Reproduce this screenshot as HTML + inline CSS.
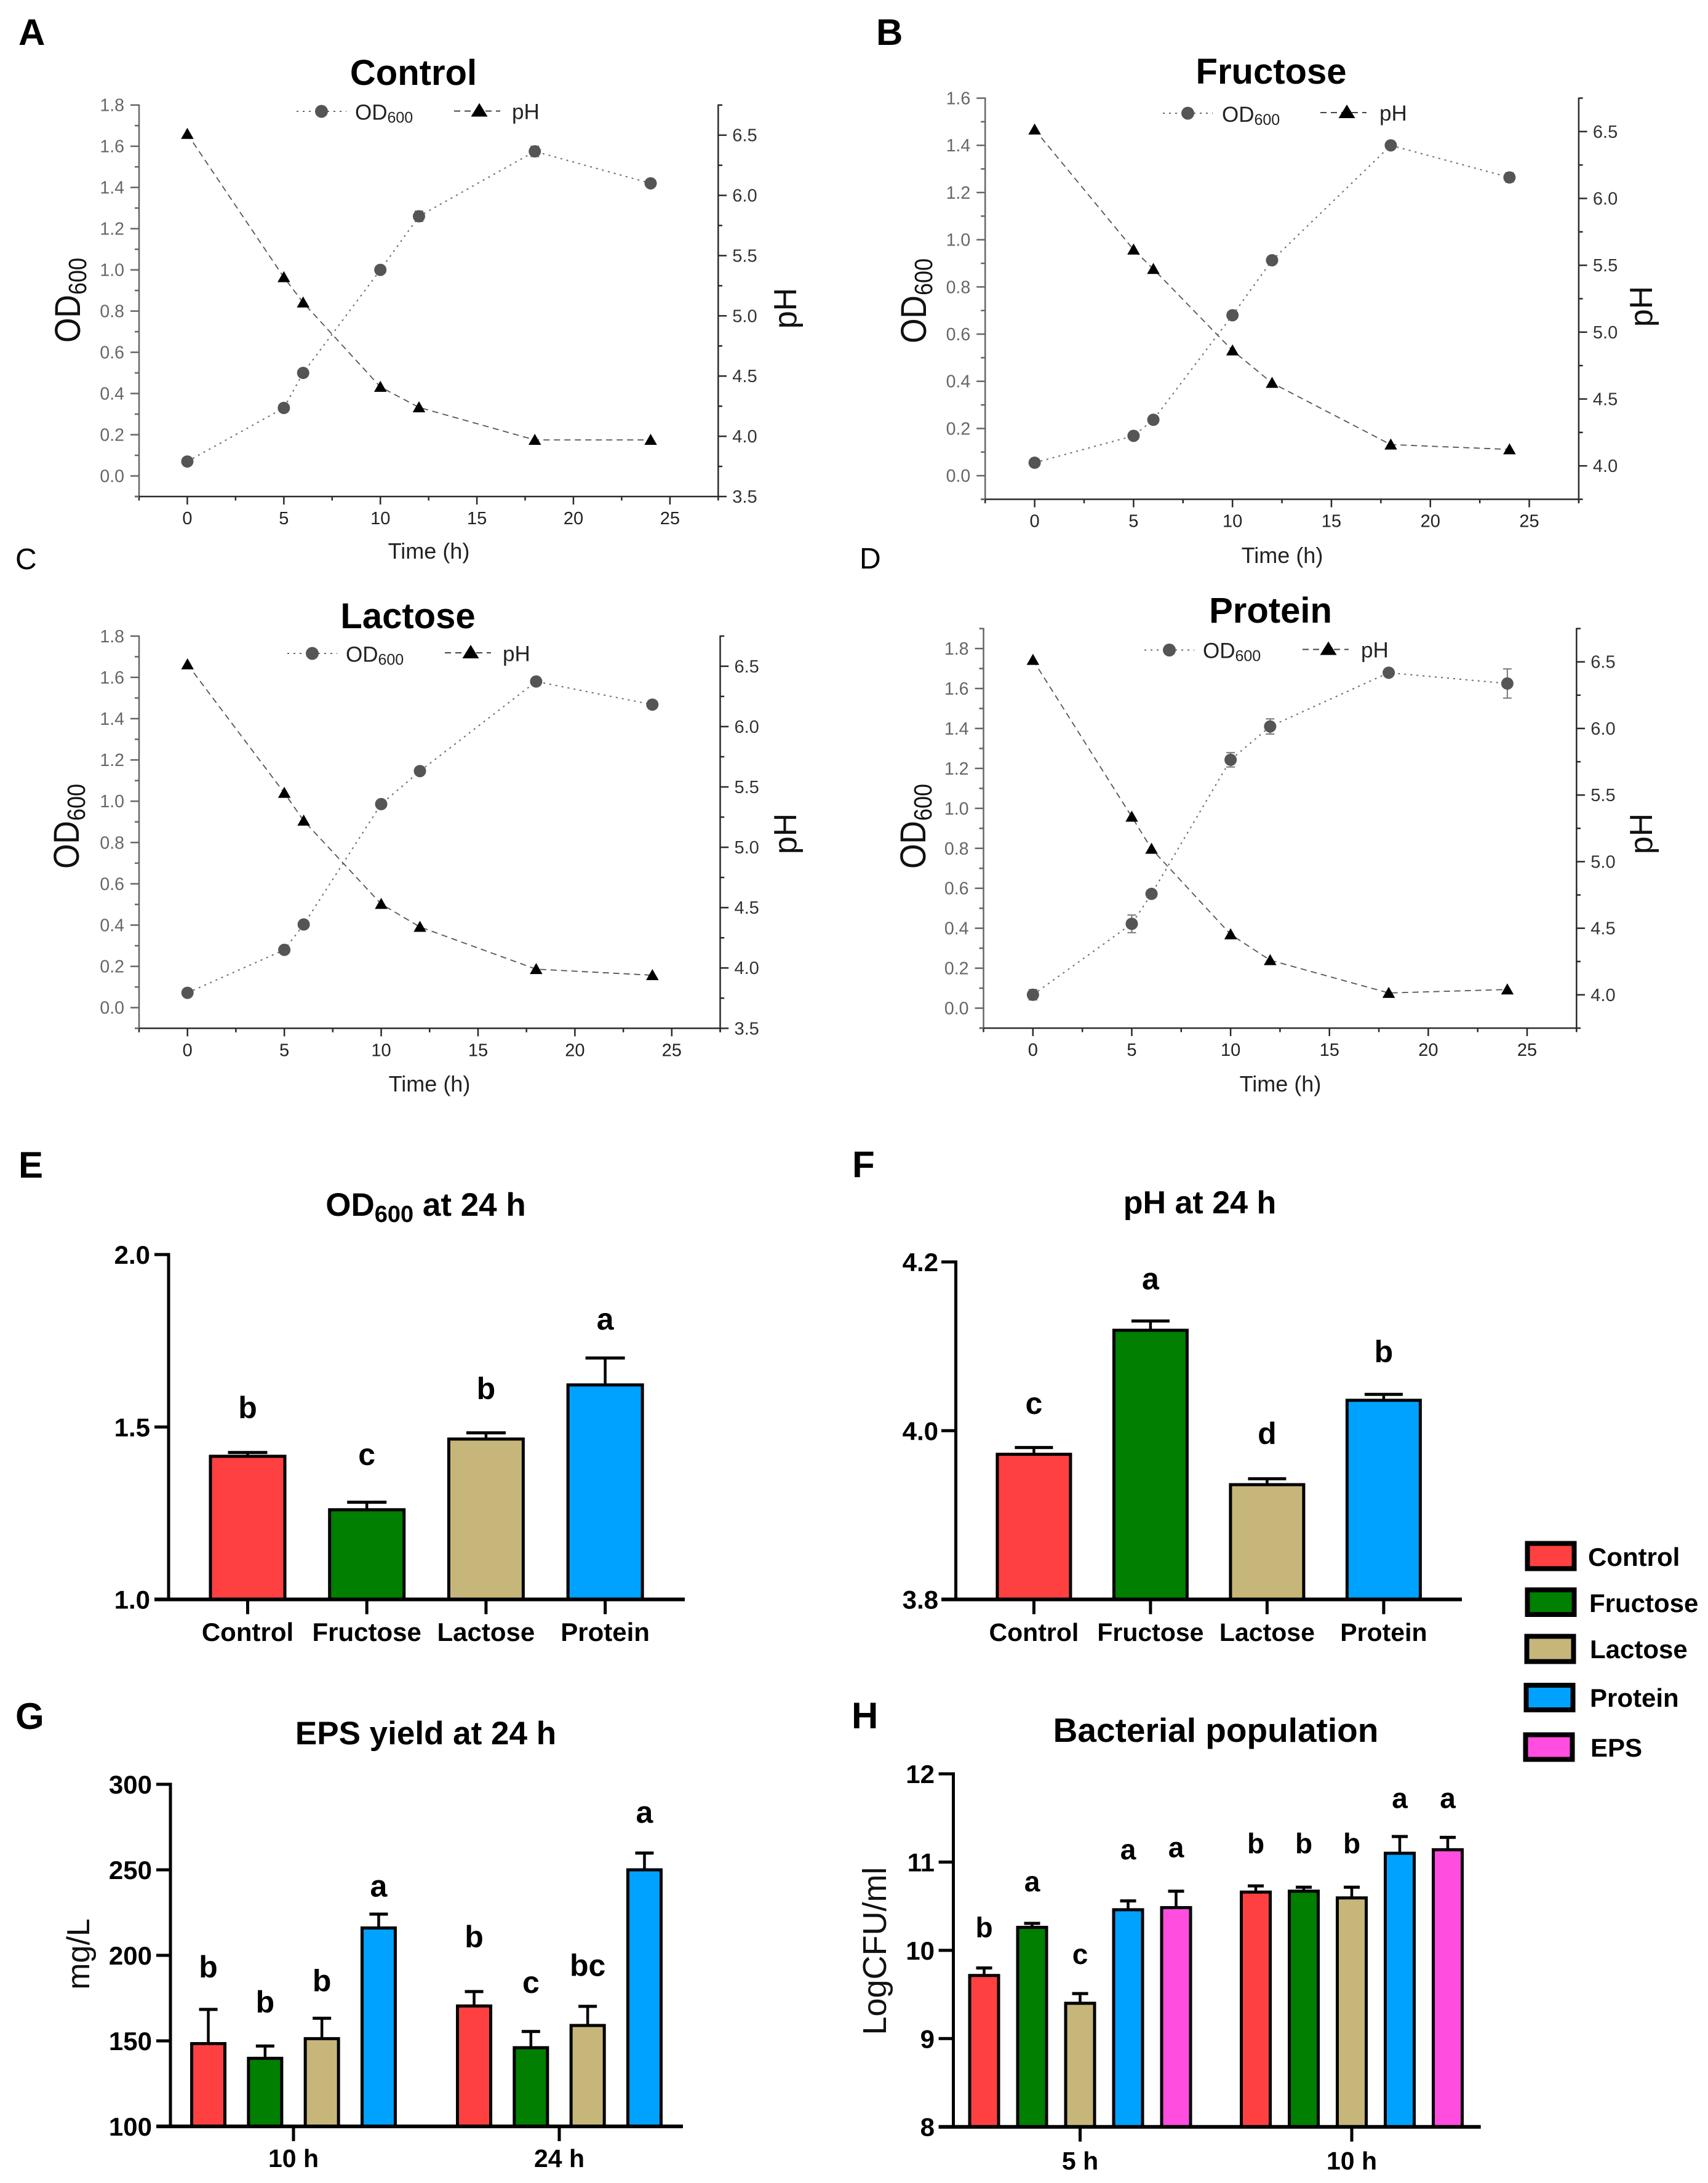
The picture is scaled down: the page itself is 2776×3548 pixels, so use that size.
<!DOCTYPE html>
<html lang="en">
<head>
<meta charset="utf-8">
<title>Bacterial growth, pH, EPS yield and population</title>
<style>
html,body{margin:0;padding:0;background:#fff;}
svg{display:block;font-family:"Liberation Sans",Arial,sans-serif;}
.pl{font-weight:700;font-size:60px;fill:#000;}
.plr{font-size:48px;fill:#000;}
.lt{font-weight:700;font-size:58px;fill:#000;text-anchor:middle;}
.at{font-size:52px;fill:#111;text-anchor:middle;}
.tm{font-size:36px;fill:#222;text-anchor:middle;}
.bt{font-weight:700;fill:#000;text-anchor:middle;}
.lg{font-weight:700;font-size:42px;fill:#000;}
</style>
</head>
<body>
<svg id="figure" xmlns="http://www.w3.org/2000/svg" width="2776" height="3548" viewBox="0 0 2776 3548">
  <rect x="0" y="0" width="2776" height="3548" fill="#fff"/>

  <g id="panel-a">
    <text class="pl" x="30" y="73">A</text>
    <text class="lt" x="672" y="138">Control</text>
    <text class="at" transform="translate(130,488) rotate(-90) scale(1,1.12)">OD<tspan font-size="36" dy="9">600</tspan></text>
    <text class="at" transform="translate(1294,501) rotate(-90)" style="font-size:52px">pH</text>
    <text class="tm" x="697" y="908">Time (h)</text>
  </g>
  <g id="panel-b">
    <text class="pl" x="1424" y="73">B</text>
    <text class="lt" x="2066" y="136">Fructose</text>
    <text class="at" transform="translate(1505,489) rotate(-90) scale(1,1.12)">OD<tspan font-size="36" dy="9">600</tspan></text>
    <text class="at" transform="translate(2685,498) rotate(-90)" style="font-size:52px">pH</text>
    <text class="tm" x="2084" y="915">Time (h)</text>
  </g>
  <g id="panel-c">
    <text class="plr" x="25" y="925">C</text>
    <text class="lt" x="663" y="1021">Lactose</text>
    <text class="at" transform="translate(128,1343) rotate(-90) scale(1,1.12)">OD<tspan font-size="36" dy="9">600</tspan></text>
    <text class="at" transform="translate(1294,1355) rotate(-90)" style="font-size:52px">pH</text>
    <text class="tm" x="698" y="1774">Time (h)</text>
  </g>
  <g id="panel-d">
    <text class="plr" x="1397" y="924">D</text>
    <text class="lt" x="2065" y="1012">Protein</text>
    <text class="at" transform="translate(1504,1343) rotate(-90) scale(1,1.12)">OD<tspan font-size="36" dy="9">600</tspan></text>
    <text class="at" transform="translate(2685,1355) rotate(-90)" style="font-size:52px">pH</text>
    <text class="tm" x="2081" y="1774">Time (h)</text>
  </g>
  <g id="panel-e">
    <text class="pl" x="30" y="1914">E</text>
    <text class="bt" x="692" y="1976" font-size="53">OD<tspan font-size="38" dy="10">600</tspan><tspan dy="-10"> at 24 h</tspan></text>
  </g>
  <g id="panel-f">
    <text class="pl" x="1385" y="1913">F</text>
    <text class="bt" x="1950" y="1972" font-size="52">pH at 24 h</text>
  </g>
  <g id="panel-g">
    <text class="pl" x="25" y="2810">G</text>
    <text class="bt" x="692" y="2835" font-size="53">EPS yield at 24 h</text>
    <text class="at" transform="translate(145,3176) rotate(-90)">mg/L</text>
  </g>
  <g id="panel-h">
    <text class="pl" x="1384" y="2809">H</text>
    <text class="bt" x="1976" y="2831" font-size="55">Bacterial population</text>
    <text class="at" transform="translate(1440,3171) rotate(-90)" style="font-size:54px">LogCFU/ml</text>
  </g>

  <g id="bar-legend" transform="translate(-3,-2)">
    <g>
      <rect x="2485.5" y="2510.5" width="76" height="41" fill="#FF4040" stroke="#000" stroke-width="8"/>
      <text class="lg" x="2584" y="2547">Control</text>
    </g>
    <g>
      <rect x="2485.5" y="2586" width="76" height="40" fill="#007F00" stroke="#000" stroke-width="8"/>
      <text class="lg" x="2586" y="2622">Fructose</text>
    </g>
    <g>
      <rect x="2484.5" y="2661.5" width="76" height="41" fill="#C6B679" stroke="#000" stroke-width="8"/>
      <text class="lg" x="2587" y="2697">Lactose</text>
    </g>
    <g>
      <rect x="2483.5" y="2741" width="76" height="40" fill="#00A2FF" stroke="#000" stroke-width="8"/>
      <text class="lg" x="2587" y="2776">Protein</text>
    </g>
    <g>
      <rect x="2482.5" y="2821.5" width="76" height="40" fill="#FF4DDF" stroke="#000" stroke-width="8"/>
      <text class="lg" x="2588" y="2857">EPS</text>
    </g>
  </g>
</svg>

<script>
/* ---------- growth-curve data ---------- */
const timePoints = [0, 5, 6, 10, 12, 18, 24];
const xTickLabels = ['0', '5', '10', '15', '20', '25'];
const xMinorTicks = [-2.5, 2.5, 7.5, 12.5, 17.5, 22.5, 27.5];

const controlOD = [0.07, 0.33, 0.50, 1.00, 1.26, 1.575, 1.42];
const controlODErr = [0.01, 0.01, 0.01, 0.01, 0.025, 0.025, 0.01];
const controlPH = [6.51, 5.32, 5.11, 4.41, 4.24, 3.97, 3.97];

const fructoseOD = [0.055, 0.169, 0.237, 0.68, 0.913, 1.40, 1.264];
const fructoseODErr = [0.005, 0.01, 0.01, 0.01, 0.01, 0.01, 0.02];
const fructosePH = [6.515, 5.617, 5.472, 4.863, 4.62, 4.159, 4.123];

const lactoseOD = [0.072, 0.28, 0.403, 0.986, 1.146, 1.58, 1.468];
const lactoseODErr = [0.005, 0.01, 0.01, 0.01, 0.01, 0.01, 0.01];
const lactosePH = [6.515, 5.45, 5.22, 4.53, 4.34, 3.99, 3.94];

const proteinOD = [0.067, 0.422, 0.572, 1.243, 1.41, 1.679, 1.625];
const proteinODErr = [0.026, 0.044, 0.01, 0.036, 0.038, 0.012, 0.073];
const proteinPH = [6.514, 5.337, 5.096, 4.454, 4.26, 4.014, 4.04];

const odTicksTo18 = ['0.0', '0.2', '0.4', '0.6', '0.8', '1.0', '1.2', '1.4', '1.6', '1.8'];
const odTicksTo16 = ['0.0', '0.2', '0.4', '0.6', '0.8', '1.0', '1.2', '1.4', '1.6'];
const phTicksFrom35 = ['3.5', '4.0', '4.5', '5.0', '5.5', '6.0', '6.5'];
const phTicksFrom40 = ['4.0', '4.5', '5.0', '5.5', '6.0', '6.5'];

/* ---------- bar-chart data ---------- */
const fourCategories = ['Control', 'Fructose', 'Lactose', 'Protein'];
const fillColors = ['#FF4040', '#007F00', '#C6B679', '#00A2FF', '#FF4DDF'];
const seriesNames = ['control', 'fructose', 'lactose', 'protein', 'eps'];

const odBarValues = [1.415, 1.26, 1.465, 1.622];
const odBarErrors = [0.011, 0.022, 0.018, 0.078];
const odBarLetters = ['b', 'c', 'b', 'a'];
const odBarLetterLevels = [1.525, 1.39, 1.581, 1.782];
const odBarTicks = ['1.0', '1.5', '2.0'];

const phBarValues = [3.972, 4.119, 3.936, 4.036];
const phBarErrors = [0.008, 0.011, 0.007, 0.007];
const phBarLetters = ['c', 'a', 'd', 'b'];
const phBarLetterLevels = [4.02, 4.1675, 3.984, 4.081];
const phBarTicks = ['3.8', '4.0', '4.2'];

const epsGroups = ['10 h', '24 h'];
const eps10hValues = [148.4, 139.8, 151.3, 216];
const eps10hErrors = [20, 7.2, 11.9, 8.1];
const eps10hLetters = ['b', 'b', 'b', 'a'];
const eps10hLetterLevels = [187, 166.5, 179, 234.4];
const eps24hValues = [170.4, 146, 159, 250];
const eps24hErrors = [8.4, 9.5, 11.2, 9.8];
const eps24hLetters = ['b', 'c', 'bc', 'a'];
const eps24hLetterLevels = [204.6, 178, 188, 277.5];
const epsTicks = ['100', '150', '200', '250', '300'];

const popGroups = ['5 h', '10 h'];
const pop5hValues = [9.715, 10.26, 9.40, 10.46, 10.484];
const pop5hErrors = [0.085, 0.046, 0.11, 0.10, 0.186];
const pop5hLetters = ['b', 'a', 'c', 'a', 'a'];
const pop5hLetterLevels = [10.15, 10.667, 9.845, 11.03, 11.054];
const pop10hValues = [10.66, 10.67, 10.594, 11.10, 11.14];
const pop10hErrors = [0.07, 0.045, 0.121, 0.19, 0.14];
const pop10hLetters = ['b', 'b', 'b', 'a', 'a'];
const pop10hLetterLevels = [11.1, 11.1, 11.1, 11.614, 11.614];
const popTicks = ['8', '9', '10', '11', '12'];

/* ---------- helpers ---------- */
const SVGNS = 'http://www.w3.org/2000/svg';
function make(tag, attrs, parent) {
  const el = document.createElementNS(SVGNS, tag);
  for (const k in attrs) el.setAttribute(k, attrs[k]);
  parent.appendChild(el);
  return el;
}
function linear(d0, d1, r0, r1) {
  return function (v) { return r0 + (v - d0) * (r1 - r0) / (d1 - d0); };
}
function hline(parent, name, x1, y1, x2, y2, color, width, dash) {
  const attrs = { x1: x1, y1: y1, x2: x2, y2: y2, stroke: color, 'stroke-width': width };
  if (dash) attrs['stroke-dasharray'] = dash;
  const el = make('line', attrs, parent);
  
  
  return el;
}
function label(parent, name, str, x, y, size, color, anchor, weight) {
  const el = make('text', { x: x, y: y, 'font-size': size, fill: color, 'text-anchor': anchor, 'font-weight': weight }, parent);
  el.textContent = str;
  
  
  return el;
}
function triangle(parent, name, cx, cy, w, h, color) {
  const pts = (cx - w / 2) + ',' + (cy + h / 2) + ' ' + (cx + w / 2) + ',' + (cy + h / 2) + ' ' + cx + ',' + (cy - h / 2);
  const el = make('polygon', { points: pts, fill: color }, parent);
  
  
  return el;
}
function circle(parent, name, cx, cy, r, color) {
  const el = make('circle', { cx: cx, cy: cy, r: r, fill: color }, parent);
  
  
  return el;
}

/* ---------- growth panel ---------- */
const OD_GRAY = '#555555';
const OD_DASH = '3 7';
const PH_DASH = '10 7';
function drawGrowthPanel(id, box, yTicks, rTicks, od, odErr, ph, legend) {
  const root = document.getElementById(id);
  const x = linear(-2.5, 27.5, box.left, box.right);
  const y = linear(box.yMin, box.yMax, box.bottom, box.top);
  const r = linear(box.rMin, 6.75, box.bottom, box.top);
  const leftColor = '#666666';
  const axisColor = '#2a2a2a';

  hline(root, 'left-axis', box.left, box.top - 1, box.left, box.bottom + 1, leftColor, 2.5);
  hline(root, 'right-axis', box.right, box.top - 1, box.right, box.bottom + 6, axisColor, 2.5);
  hline(root, 'bottom-axis', box.left - 7, box.bottom, box.right, box.bottom, axisColor, 2.5);

  xTickLabels.forEach(function (t) {
    const px = x(parseFloat(t));
    hline(root, 'x-tick', px, box.bottom, px, box.bottom + 13, axisColor, 2.5);
    label(root, 'x-tick-label', t, px, box.bottom + 45, 29, '#222', 'middle', 400);
  });
  xMinorTicks.forEach(function (t) {
    hline(root, 'x-minor-tick', x(t), box.bottom, x(t), box.bottom + 6.5, axisColor, 2.5);
  });

  yTicks.forEach(function (t) {
    const py = y(parseFloat(t));
    hline(root, 'y-tick', box.left - 14, py, box.left, py, leftColor, 2.5);
    label(root, 'y-tick-label', t, box.left - 24, py + 10, 28.5, '#666', 'end', 400);
  });
  for (let v = box.yMin; v < box.yMax + 0.001; v += 0.2) {
    hline(root, 'y-minor-tick', box.left - 7, y(v), box.left, y(v), leftColor, 2.5);
  }

  rTicks.forEach(function (t) {
    const py = r(parseFloat(t));
    hline(root, 'right-tick', box.right, py, box.right + 13.7, py, axisColor, 2.5);
    label(root, 'right-tick-label', t, box.right + 23, py + 10, 29, '#333', 'start', 400);
    if (parseFloat(t) + 0.25 < 6.8) {
      const pm = r(parseFloat(t) + 0.25);
      hline(root, 'right-minor-tick', box.right, pm, box.right + 6.7, pm, axisColor, 2.5);
    }
  });
  if (box.rMin === 3.75) {
    hline(root, 'right-minor-tick', box.right, box.bottom, box.right + 6.7, box.bottom, axisColor, 2.5);
  }

  const odLine = make('polyline', {
    points: timePoints.map(function (t, i) { return x(t) + ',' + y(od[i]); }).join(' '),
    fill: 'none', stroke: '#6a6a6a', 'stroke-width': 2, 'stroke-dasharray': OD_DASH
  }, root);
  
  

  const phLine = make('polyline', {
    points: timePoints.map(function (t, i) { return x(t) + ',' + r(ph[i]); }).join(' '),
    fill: 'none', stroke: '#555', 'stroke-width': 1.8, 'stroke-dasharray': PH_DASH
  }, root);
  
  

  timePoints.forEach(function (t, i) {
    const px = x(t);
    const hi = y(od[i] + odErr[i]);
    const lo = y(od[i] - odErr[i]);
    hline(root, 'od600-error-bar', px, hi, px, lo, '#777', 2);
    hline(root, 'od600-error-cap', px - 7, hi, px + 7, hi, '#777', 2);
    hline(root, 'od600-error-cap', px - 7, lo, px + 7, lo, '#777', 2);
    circle(root, 'od600-point', px, y(od[i]), 10, OD_GRAY);
    triangle(root, 'ph-point', px, r(ph[i]) - 1, 20.5, 18, '#000');
  });

  hline(root, 'legend-od600-line', legend.odLine0, legend.odY, legend.odLine1, legend.odY, '#6a6a6a', 2, OD_DASH);
  circle(root, 'legend-od600-marker', (legend.odLine0 + legend.odLine1) / 2, legend.odY, 10.5, OD_GRAY);
  const odLabel = make('text', { x: legend.odText, y: legend.odBase, 'font-size': 35, fill: '#222' }, root);
  
  
  odLabel.textContent = 'OD';
  const odSub = make('tspan', { 'font-size': 25, dy: 5 }, odLabel);
  odSub.textContent = '600';
  
  

  hline(root, 'legend-ph-line', legend.phLine0, legend.phY, legend.phLine1, legend.phY, '#444', 2, PH_DASH);
  triangle(root, 'legend-ph-marker', legend.phTri, legend.phY - 2, 27, 22, '#000');
  label(root, 'legend-ph-label', 'pH', legend.phText, legend.phBase, 35, '#222', 'start', 400);
}

drawGrowthPanel('panel-a',
  { left: 226, right: 1167.3, top: 170.7, bottom: 807, yMin: -0.1, yMax: 1.8, rMin: 3.5 },
  odTicksTo18, phTicksFrom35, controlOD, controlODErr, controlPH,
  { odLine0: 482, odLine1: 563, odY: 181, odText: 577, odBase: 194.5, phLine0: 738, phLine1: 813, phY: 180.5, phTri: 779, phText: 832, phBase: 193.5 });
drawGrowthPanel('panel-b',
  { left: 1601.2, right: 2565.9, top: 159.5, bottom: 811.5, yMin: -0.1, yMax: 1.6, rMin: 3.75 },
  odTicksTo16, phTicksFrom40, fructoseOD, fructoseODErr, fructosePH,
  { odLine0: 1890, odLine1: 1971, odY: 184, odText: 1986, odBase: 198, phLine0: 2146, phLine1: 2221, phY: 183, phTri: 2189, phText: 2242, phBase: 196 });
drawGrowthPanel('panel-c',
  { left: 226, right: 1170.5, top: 1033.8, bottom: 1671.3, yMin: -0.1, yMax: 1.8, rMin: 3.5 },
  odTicksTo18, phTicksFrom35, lactoseOD, lactoseODErr, lactosePH,
  { odLine0: 467, odLine1: 548, odY: 1062, odText: 562, odBase: 1075.5, phLine0: 723, phLine1: 798, phY: 1061, phTri: 765, phText: 817, phBase: 1074.5 });
drawGrowthPanel('panel-d',
  { left: 1598.5, right: 2562.3, top: 1021.6, bottom: 1671, yMin: -0.1, yMax: 1.9, rMin: 3.75 },
  odTicksTo18, phTicksFrom40, proteinOD, proteinODErr, proteinPH,
  { odLine0: 1860, odLine1: 1941, odY: 1056.5, odText: 1955, odBase: 1069.5, phLine0: 2117, phLine1: 2192, phY: 1055.5, phTri: 2159, phText: 2212, phBase: 1068.5 });

/* ---------- bar panel ---------- */
function drawBarAxes(root, box, yScale, ticks, fontSize) {
  hline(root, 'y-axis', box.axisX, box.top - 2.5, box.axisX, box.bottom + 2.5, '#000', 5);
  ticks.forEach(function (t) {
    const py = yScale(parseFloat(t));
    hline(root, 'y-tick', box.tickLeft, py, box.axisX, py, '#000', 5);
    label(root, 'y-tick-label', t, box.labelRight, py + 15, fontSize, '#000', 'end', 700);
  });
}
function drawBar(root, name, cx, width, value, error, color, yScale, box, capWidth) {
  const top = yScale(value);
  const rect = make('rect', {
    x: cx - width / 2, y: top, width: width, height: box.bottom - top,
    fill: color, stroke: '#000', 'stroke-width': 5
  }, root);
  
  
  const hi = yScale(value + error);
  hline(root, 'error-bar-' + name, cx, hi, cx, top, '#000', 4.5);
  hline(root, 'error-cap-' + name, cx - capWidth / 2, hi, cx + capWidth / 2, hi, '#000', 5);
}
function drawBaseline(root, box) {
  hline(root, 'x-axis', box.tickLeft, box.bottom, box.axisEnd, box.bottom, '#000', 6);
}

function drawCategoryChart(id, box, ticks, values, errors, letters, levels) {
  const root = document.getElementById(id);
  const y = linear(parseFloat(ticks[0]), parseFloat(ticks[ticks.length - 1]), box.bottom, box.top);
  drawBarAxes(root, box, y, ticks, 42);
  fourCategories.forEach(function (cat, i) {
    const cx = box.firstCenter + box.step * i;
    drawBar(root, seriesNames[i], cx, box.barWidth, values[i], errors[i], fillColors[i], y, box, box.capWidth);
    hline(root, 'x-tick', cx, box.bottom, cx, box.bottom + 24, '#000', 5);
    label(root, 'x-tick-label', cat, cx, 2667, box.catSize, '#000', 'middle', 700);
    label(root, 'significance-letter', letters[i], cx, y(levels[i]), 50, '#000', 'middle', 700);
  });
  drawBaseline(root, box);
}
function drawGroupedChart(id, box, ticks, groups, allValues, allErrors, allLetters, allLevels) {
  const root = document.getElementById(id);
  const y = linear(parseFloat(ticks[0]), parseFloat(ticks[ticks.length - 1]), box.bottom, box.top);
  drawBarAxes(root, box, y, ticks, 42);
  groups.forEach(function (grp, g) {
    const center = box.groupCenters[g];
    const n = allValues[g].length;
    allValues[g].forEach(function (val, i) {
      const cx = center + (i - (n - 1) / 2) * box.step;
      drawBar(root, seriesNames[i], cx, box.barWidth, val, allErrors[g][i], fillColors[i], y, box, box.capWidth);
      label(root, 'significance-letter', allLetters[g][i], cx, y(allLevels[g][i]), box.letterSize, '#000', 'middle', 700);
    });
    hline(root, 'x-tick', center, box.bottom, center, box.bottom + 24, '#000', 5);
    label(root, 'x-tick-label', grp, center, box.groupBase, 41, '#000', 'middle', 700);
  });
  drawBaseline(root, box);
}

drawCategoryChart('panel-e',
  { axisX: 274, top: 2039, bottom: 2599.5, tickLeft: 251, labelRight: 244, axisEnd: 1113, firstCenter: 402.5, step: 193.7, barWidth: 121, capWidth: 64, catSize: 42 },
  odBarTicks, odBarValues, odBarErrors, odBarLetters, odBarLetterLevels);
drawCategoryChart('panel-f',
  { axisX: 1553.5, top: 2051, bottom: 2599.5, tickLeft: 1530, labelRight: 1525, axisEnd: 2376, firstCenter: 1680.4, step: 189.5, barWidth: 119, capWidth: 62, catSize: 41 },
  phBarTicks, phBarValues, phBarErrors, phBarLetters, phBarLetterLevels);
drawGroupedChart('panel-g',
  { axisX: 277, top: 2900, bottom: 3456, tickLeft: 254, labelRight: 247, axisEnd: 1110, groupCenters: [477, 909], step: 92.3, barWidth: 54, capWidth: 30, letterSize: 50, groupBase: 3522 },
  epsTicks, epsGroups, [eps10hValues, eps24hValues], [eps10hErrors, eps24hErrors], [eps10hLetters, eps24hLetters], [eps10hLetterLevels, eps24hLetterLevels]);
drawGroupedChart('panel-h',
  { axisX: 1549.5, top: 2883, bottom: 3456.7, tickLeft: 1525.6, labelRight: 1519, axisEnd: 2406.7, groupCenters: [1755.5, 2197], step: 78, barWidth: 47, capWidth: 26, letterSize: 46, groupBase: 3526 },
  popTicks, popGroups, [pop5hValues, pop10hValues], [pop5hErrors, pop10hErrors], [pop5hLetters, pop10hLetters], [pop5hLetterLevels, pop10hLetterLevels]);
</script>
</body>
</html>
